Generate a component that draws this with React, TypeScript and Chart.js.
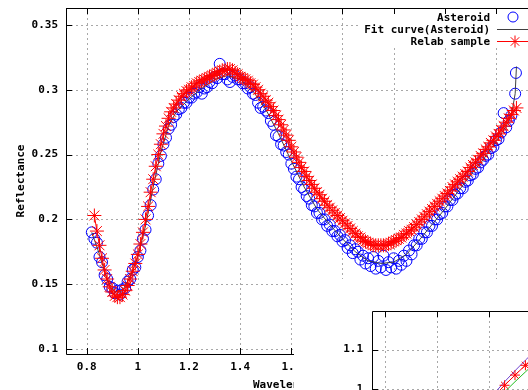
import React, { useEffect, useRef } from "react";
import { Chart, registerables } from "chart.js";
Chart.register(...registerables);

// ---------- Main chart data ----------
const relabX = [
  0.83, 0.84, 0.85, 0.86, 0.87, 0.88, 0.89, 0.9, 0.91, 0.92, 0.93, 0.94, 0.95, 0.96, 0.97, 0.98, 0.99,
  1.0, 1.01, 1.02, 1.03, 1.04, 1.05, 1.06, 1.07, 1.08, 1.09, 1.1, 1.11, 1.12, 1.13, 1.14, 1.15, 1.16, 1.17, 1.18, 1.19,
  1.2, 1.21, 1.22, 1.23, 1.24, 1.25, 1.26, 1.27, 1.28, 1.29, 1.3, 1.31, 1.32, 1.33, 1.34, 1.35, 1.36, 1.37, 1.38, 1.39,
  1.4, 1.41, 1.42, 1.43, 1.44, 1.45, 1.46, 1.47, 1.48, 1.49, 1.5, 1.51, 1.52, 1.53, 1.54, 1.55, 1.56, 1.57, 1.58, 1.59,
  1.6, 1.61, 1.62, 1.63, 1.64, 1.65, 1.66, 1.67, 1.68, 1.69, 1.7, 1.71, 1.72, 1.73, 1.74, 1.75, 1.76, 1.77, 1.78, 1.79,
  1.8, 1.81, 1.82, 1.83, 1.84, 1.85, 1.86, 1.87, 1.88, 1.89, 1.9, 1.91, 1.92, 1.93, 1.94, 1.95, 1.96, 1.97, 1.98, 1.99,
  2.0, 2.01, 2.02, 2.03, 2.04, 2.05, 2.06, 2.07, 2.08, 2.09, 2.1, 2.11, 2.12, 2.13, 2.14, 2.15, 2.16, 2.17, 2.18, 2.19,
  2.2, 2.21, 2.22, 2.23, 2.24, 2.25, 2.26, 2.27, 2.28, 2.29, 2.3, 2.31, 2.32, 2.33, 2.34, 2.35, 2.36, 2.37, 2.38, 2.39,
  2.4, 2.41, 2.42, 2.43, 2.44, 2.45, 2.46, 2.47, 2.48,
];
const relabY = [
  0.203, 0.191, 0.18, 0.17, 0.161, 0.154, 0.148, 0.144, 0.141, 0.14, 0.14, 0.142, 0.145, 0.149, 0.154, 0.16, 0.166,
  0.173, 0.181, 0.19, 0.2, 0.21, 0.221, 0.231, 0.241, 0.25, 0.258, 0.266, 0.272, 0.278, 0.283, 0.286, 0.289, 0.292, 0.295, 0.297, 0.299,
  0.3, 0.302, 0.303, 0.305, 0.306, 0.307, 0.308, 0.309, 0.31, 0.311, 0.312, 0.313, 0.314, 0.315, 0.315, 0.316, 0.316, 0.315, 0.313, 0.312,
  0.31, 0.309, 0.308, 0.307, 0.305, 0.304, 0.302, 0.3, 0.297, 0.295, 0.292, 0.29, 0.287, 0.284, 0.28, 0.277, 0.273, 0.269, 0.265, 0.261,
  0.256, 0.252, 0.248, 0.244, 0.24, 0.237, 0.233, 0.23, 0.227, 0.224, 0.221, 0.219, 0.216, 0.214, 0.211, 0.209, 0.207, 0.205, 0.203, 0.201,
  0.199, 0.197, 0.195, 0.193, 0.191, 0.189, 0.187, 0.186, 0.184, 0.183, 0.182, 0.181, 0.18, 0.18, 0.18, 0.18, 0.18, 0.18, 0.181, 0.182,
  0.183, 0.184, 0.185, 0.186, 0.188, 0.189, 0.191, 0.192, 0.194, 0.196, 0.198, 0.2, 0.202, 0.204, 0.206, 0.208, 0.21, 0.212, 0.214, 0.216,
  0.218, 0.22, 0.222, 0.225, 0.227, 0.229, 0.231, 0.233, 0.235, 0.237, 0.24, 0.242, 0.244, 0.246, 0.249, 0.251, 0.254, 0.256, 0.259, 0.261,
  0.264, 0.266, 0.269, 0.272, 0.275, 0.278, 0.281, 0.284, 0.286,
];

const asteroidX = [
  0.82, 0.83, 0.84, 0.85, 0.86, 0.87, 0.88, 0.89, 0.9, 0.91, 0.92, 0.93, 0.94, 0.95, 0.96, 0.97, 0.98, 0.99,
  1.0, 1.01, 1.02, 1.03, 1.04, 1.05, 1.06, 1.07, 1.08, 1.09, 1.1, 1.11, 1.12, 1.13, 1.14, 1.15, 1.16, 1.17, 1.18, 1.19,
  1.2, 1.21, 1.22, 1.23, 1.24, 1.25, 1.26, 1.27, 1.28, 1.29, 1.3, 1.31, 1.32, 1.33, 1.34, 1.35, 1.36, 1.37, 1.38, 1.39,
  1.4, 1.41, 1.42, 1.43, 1.44, 1.45, 1.46, 1.47, 1.48, 1.49, 1.5, 1.51, 1.52, 1.53, 1.54, 1.55, 1.56, 1.57, 1.58, 1.59,
  1.6, 1.61, 1.62, 1.63, 1.64, 1.65, 1.66, 1.67, 1.68, 1.69, 1.7, 1.71, 1.72, 1.73, 1.74, 1.75, 1.76, 1.77, 1.78, 1.79,
  1.8, 1.81, 1.82, 1.83, 1.84, 1.85, 1.86, 1.87, 1.88, 1.89, 1.9, 1.91, 1.92, 1.93, 1.94, 1.95, 1.96, 1.97, 1.98, 1.99,
  2.0, 2.01, 2.02, 2.03, 2.04, 2.05, 2.06, 2.07, 2.08, 2.09, 2.1, 2.11, 2.12, 2.13, 2.14, 2.15, 2.16, 2.17, 2.18, 2.19,
  2.2, 2.21, 2.22, 2.23, 2.24, 2.25, 2.26, 2.27, 2.28, 2.29, 2.3, 2.31, 2.32, 2.33, 2.34, 2.35, 2.36, 2.37, 2.38, 2.39,
  2.4, 2.41, 2.42, 2.43, 2.44, 2.45, 2.46, 2.475, 2.478,
];
const asteroidY = [
  0.19, 0.185, 0.182, 0.171, 0.167, 0.157, 0.154, 0.148, 0.147, 0.143, 0.145, 0.142, 0.146, 0.147, 0.152, 0.154, 0.161, 0.163,
  0.171, 0.176, 0.185, 0.192, 0.203, 0.211, 0.223, 0.231, 0.243, 0.249, 0.258, 0.263, 0.27, 0.273, 0.279, 0.281, 0.285, 0.286, 0.29, 0.29,
  0.294, 0.294, 0.297, 0.298, 0.302, 0.297, 0.301, 0.302, 0.306, 0.305, 0.31, 0.309, 0.32, 0.312, 0.312, 0.308, 0.306, 0.31, 0.311, 0.308,
  0.308, 0.305, 0.305, 0.301, 0.302, 0.297, 0.296, 0.29, 0.286, 0.287, 0.284, 0.282, 0.276, 0.273, 0.265, 0.264, 0.258, 0.257, 0.252, 0.25,
  0.243, 0.239, 0.233, 0.231, 0.225, 0.223, 0.218, 0.216, 0.211, 0.21, 0.205, 0.205, 0.2, 0.2, 0.195, 0.196, 0.191, 0.191, 0.187, 0.188,
  0.183, 0.184, 0.178, 0.18, 0.174, 0.177, 0.175, 0.169, 0.172, 0.166, 0.17, 0.164, 0.171, 0.162, 0.168, 0.163, 0.172, 0.161, 0.167, 0.163,
  0.17, 0.162, 0.168, 0.165, 0.172, 0.168, 0.176, 0.173, 0.18, 0.18, 0.185, 0.185, 0.19, 0.19, 0.195, 0.195, 0.2, 0.2, 0.204, 0.205,
  0.21, 0.21, 0.215, 0.215, 0.219, 0.22, 0.224, 0.224, 0.229, 0.23, 0.234, 0.235, 0.239, 0.24, 0.244, 0.246, 0.249, 0.25, 0.255, 0.256,
  0.261, 0.262, 0.267, 0.282, 0.271, 0.276, 0.28, 0.297, 0.313,
];

const fitX = [
  0.82, 0.85, 0.88, 0.91, 0.94, 0.97, 1.0, 1.03, 1.06, 1.09, 1.12, 1.15, 1.2, 1.25, 1.3, 1.35, 1.4, 1.45, 1.5,
  1.55, 1.6, 1.65, 1.7, 1.75, 1.8, 1.85, 1.9, 1.95, 2.0, 2.05, 2.1, 2.15, 2.2, 2.25, 2.3, 2.35, 2.4, 2.44,
  2.46, 2.475, 2.48,
];
const fitY = [
  0.19, 0.173, 0.153, 0.144, 0.145, 0.156, 0.171, 0.195, 0.225, 0.252, 0.272, 0.283, 0.293, 0.301, 0.308, 0.311, 0.308,
  0.299, 0.285, 0.266, 0.245, 0.225, 0.208, 0.196, 0.185, 0.175, 0.168, 0.166, 0.167, 0.173, 0.184, 0.196, 0.208, 0.221,
  0.234, 0.246, 0.26, 0.272, 0.28, 0.297, 0.318,
];

const seriesLabels = ["Asteroid", "Fit curve(Asteroid)", "Relab sample"];
const yTitle = "Reflectance";
const xTitle = "Wavelength (\u00b5m)";

// ---------- Inset chart data ----------
const insetX = [2.05, 2.15, 2.25, 2.35, 2.45];
const insetPurple = [0.988, 1.018, 1.046, 1.073, 1.099];
const insetRed = [0.981, 1.009, 1.035, 1.06, 1.084];
const insetGreen = [0.966, 0.992, 1.018, 1.043, 1.068];

const FONT = "'DejaVu Sans Mono', monospace";
const zip = (xs: number[], ys: number[]) => xs.map((x, i) => ({ x, y: ys[i] }));
const fmt = (v: any) => String(parseFloat(Number(v).toFixed(3)));

const drawGrid = (chart: any) => {
  const { ctx, chartArea, scales } = chart;
  const { left, right, top, bottom } = chartArea;
  ctx.save();
  ctx.strokeStyle = "#a8a8a8";
  ctx.lineWidth = 1;
  ctx.setLineDash([2, 3]);
  scales.x.ticks.forEach((t: any) => {
    const px = Math.round(scales.x.getPixelForValue(t.value)) + 0.5;
    ctx.beginPath();
    ctx.moveTo(px, top);
    ctx.lineTo(px, bottom);
    ctx.stroke();
  });
  scales.y.ticks.forEach((t: any) => {
    const py = Math.round(scales.y.getPixelForValue(t.value)) + 0.5;
    ctx.beginPath();
    ctx.moveTo(left, py);
    ctx.lineTo(right, py);
    ctx.stroke();
  });
  ctx.restore();
};

const mainDecor = {
  id: "mainDecor",
  beforeDatasetsDraw(chart: any) {
    drawGrid(chart);
    const { ctx, chartArea } = chart;
    ctx.save();
    ctx.fillStyle = "#fff";
    ctx.fillRect(358, 10, chartArea.right - 358, 36);
    ctx.restore();
  },
  afterDatasetsDraw(chart: any) {
    const { ctx, chartArea, scales } = chart;
    const { left, right, top, bottom } = chartArea;
    ctx.save();
    ctx.strokeStyle = "#000";
    ctx.lineWidth = 1;
    ctx.beginPath();
    ctx.moveTo(left + 0.5, top);
    ctx.lineTo(left + 0.5, bottom + 0.5);
    ctx.lineTo(right, bottom + 0.5);
    ctx.moveTo(left, top + 0.5);
    ctx.lineTo(right, top + 0.5);
    ctx.lineTo(right + 0.5, bottom);
    ctx.stroke();
    ctx.beginPath();
    scales.x.ticks.forEach((t: any) => {
      const px = Math.round(scales.x.getPixelForValue(t.value)) + 0.5;
      ctx.moveTo(px, top);
      ctx.lineTo(px, top + 6);
      ctx.moveTo(px, bottom);
      ctx.lineTo(px, bottom - 6);
    });
    scales.y.ticks.forEach((t: any) => {
      const py = Math.round(scales.y.getPixelForValue(t.value)) + 0.5;
      ctx.moveTo(left, py);
      ctx.lineTo(left + 6, py);
      ctx.moveTo(right, py);
      ctx.lineTo(right - 6, py);
    });
    ctx.stroke();

    // legend
    ctx.fillStyle = "#000";
    ctx.font = `bold 11px ${FONT}`;
    ctx.textAlign = "right";
    ctx.textBaseline = "alphabetic";
    const rows = [17, 29, 41];
    seriesLabels.forEach((s, i) => ctx.fillText(s, 490, rows[i] + 4));
    ctx.strokeStyle = "#0000ff";
    ctx.beginPath();
    ctx.arc(513, rows[0], 5, 0, Math.PI * 2);
    ctx.stroke();
    ctx.strokeStyle = "#404040";
    ctx.beginPath();
    ctx.moveTo(497, rows[1] + 0.5);
    ctx.lineTo(535, rows[1] + 0.5);
    ctx.stroke();
    ctx.strokeStyle = "#ff0000";
    ctx.beginPath();
    ctx.moveTo(497, rows[2] + 0.5);
    ctx.lineTo(535, rows[2] + 0.5);
    const cx = 515, cy = rows[2] + 0.5, r = 6;
    ctx.moveTo(cx - r, cy);
    ctx.lineTo(cx + r, cy);
    ctx.moveTo(cx, cy - r);
    ctx.lineTo(cx, cy + r);
    const d = r * 0.707;
    ctx.moveTo(cx - d, cy - d);
    ctx.lineTo(cx + d, cy + d);
    ctx.moveTo(cx - d, cy + d);
    ctx.lineTo(cx + d, cy - d);
    ctx.stroke();

    // axis titles
    ctx.fillStyle = "#000";
    ctx.textAlign = "left";
    ctx.fillText(xTitle, 253, 388);
    ctx.save();
    ctx.translate(24, 181);
    ctx.rotate(-Math.PI / 2);
    ctx.textAlign = "center";
    ctx.fillText(yTitle, 0, 0);
    ctx.restore();
    ctx.restore();
  },
};

const insetDecor = {
  id: "insetDecor",
  beforeDraw(chart: any) {
    const { ctx, width, height } = chart;
    ctx.save();
    ctx.fillStyle = "#fff";
    ctx.fillRect(0, 0, width, height);
    ctx.restore();
  },
  beforeDatasetsDraw(chart: any) {
    drawGrid(chart);
  },
  afterDatasetsDraw(chart: any) {
    const { ctx, chartArea, scales } = chart;
    const { left, right, top, bottom } = chartArea;
    ctx.save();
    ctx.strokeStyle = "#000";
    ctx.lineWidth = 1;
    ctx.beginPath();
    ctx.moveTo(left + 0.5, bottom);
    ctx.lineTo(left + 0.5, top + 0.5);
    ctx.lineTo(right, top + 0.5);
    scales.x.ticks.forEach((t: any) => {
      const px = Math.round(scales.x.getPixelForValue(t.value)) + 0.5;
      ctx.moveTo(px, top);
      ctx.lineTo(px, top + 6);
    });
    scales.y.ticks.forEach((t: any) => {
      const py = Math.round(scales.y.getPixelForValue(t.value)) + 0.5;
      ctx.moveTo(left, py);
      ctx.lineTo(left + 6, py);
    });
    ctx.stroke();
    ctx.restore();
  },
};

const tickFont = { family: FONT, size: 11, weight: "bold" as const };

const fixX = (h: number) => (s: any) => {
  s.height = h;
  s.paddingLeft = 0;
  s.paddingRight = 0;
};
const fixY = (w: number) => (s: any) => {
  s.width = w;
  s.paddingTop = 0;
  s.paddingBottom = 0;
};

export default function App() {
  const mainRef = useRef<HTMLCanvasElement | null>(null);
  const insetRef = useRef<HTMLCanvasElement | null>(null);

  useEffect(() => {
    const main = new Chart(mainRef.current as HTMLCanvasElement, {
      type: "scatter",
      data: {
        datasets: [
          {
            label: seriesLabels[2],
            data: zip(relabX, relabY),
            showLine: true,
            borderColor: "#ff0000",
            borderWidth: 1,
            pointStyle: "star",
            pointRadius: 7,
            pointBorderColor: "#ff0000",
            pointBackgroundColor: "rgba(0,0,0,0)",
            pointBorderWidth: 1,
            order: 0,
          },
          {
            label: seriesLabels[1],
            data: zip(fitX, fitY),
            showLine: true,
            borderColor: "#404040",
            borderWidth: 1,
            pointRadius: 0,
            order: 1,
          },
          {
            label: seriesLabels[0],
            data: zip(asteroidX, asteroidY),
            showLine: false,
            pointStyle: "circle",
            pointRadius: 5.5,
            pointBorderColor: "#0000ff",
            pointBackgroundColor: "rgba(0,0,0,0)",
            pointBorderWidth: 1,
            order: 2,
          },
        ],
      },
      options: {
        responsive: false,
        animation: false,
        devicePixelRatio: 1,
        layout: { padding: { left: 0, top: 8, right: 50, bottom: 0 } },
        plugins: { legend: { display: false }, tooltip: { enabled: false } },
        scales: {
          x: {
            type: "linear",
            min: 0.7191,
            max: 2.6112,
            afterFit: fixX(36),
            grid: { display: false, drawTicks: false },
            border: { display: false },
            ticks: {
              stepSize: 0.2,
              includeBounds: false,
              padding: 7,
              color: "#000",
              font: tickFont,
              maxRotation: 0,
              autoSkip: false,
              callback: (v: any) => fmt(v),
            },
          },
          y: {
            type: "linear",
            min: 0.09615,
            max: 0.3631,
            afterFit: fixY(66),
            grid: { display: false, drawTicks: false },
            border: { display: false },
            ticks: {
              stepSize: 0.05,
              includeBounds: false,
              padding: 8,
              color: "#000",
              font: tickFont,
              autoSkip: false,
              callback: (v: any) => fmt(v),
            },
          },
        },
      } as any,
      plugins: [mainDecor],
    });

    const inset = new Chart(insetRef.current as HTMLCanvasElement, {
      type: "scatter",
      data: {
        datasets: [
          {
            label: "red",
            data: zip(insetX, insetRed),
            showLine: true,
            borderColor: "#ff0000",
            borderWidth: 1,
            pointStyle: "star",
            pointRadius: 5,
            pointBorderColor: "#ff0000",
            pointBorderWidth: 1,
            order: 0,
          },
          {
            label: "purple",
            data: zip(insetX, insetPurple),
            showLine: true,
            borderColor: "#7040d0",
            borderWidth: 1,
            pointRadius: 0,
            order: 1,
          },
          {
            label: "green",
            data: zip(insetX, insetGreen),
            showLine: true,
            borderColor: "#20c020",
            borderWidth: 1,
            pointRadius: 0,
            order: 2,
          },
        ],
      },
      options: {
        responsive: false,
        animation: false,
        devicePixelRatio: 1,
        layout: { padding: { left: 0, top: 32, right: 10, bottom: 0 } },
        plugins: { legend: { display: false }, tooltip: { enabled: false } },
        scales: {
          x: {
            type: "linear",
            min: 0.875,
            max: 2.9135,
            afterFit: fixX(11),
            grid: { display: false, drawTicks: false },
            border: { display: false },
            ticks: { stepSize: 0.5, includeBounds: false, display: false },
          },
          y: {
            type: "linear",
            min: 0.9,
            max: 1.1985,
            afterFit: fixY(78),
            grid: { display: false, drawTicks: false },
            border: { display: false },
            ticks: {
              stepSize: 0.1,
              includeBounds: false,
              padding: 9,
              color: "#000",
              font: tickFont,
              callback: (v: any) => fmt(v),
            },
          },
        },
      } as any,
      plugins: [insetDecor],
    });

    return () => {
      main.destroy();
      inset.destroy();
    };
  }, []);

  return (
    <div
      style={{
        position: "fixed",
        left: 0,
        top: 0,
        width: 528,
        height: 390,
        overflow: "hidden",
        background: "#fff",
      }}
    >
      <canvas
        ref={mainRef}
        width={600}
        height={390}
        style={{ position: "absolute", left: 0, top: 0, width: 600, height: 390 }}
      />
      <canvas
        ref={insetRef}
        width={300}
        height={160}
        style={{ position: "absolute", left: 294, top: 279, width: 300, height: 160 }}
      />
    </div>
  );
}
